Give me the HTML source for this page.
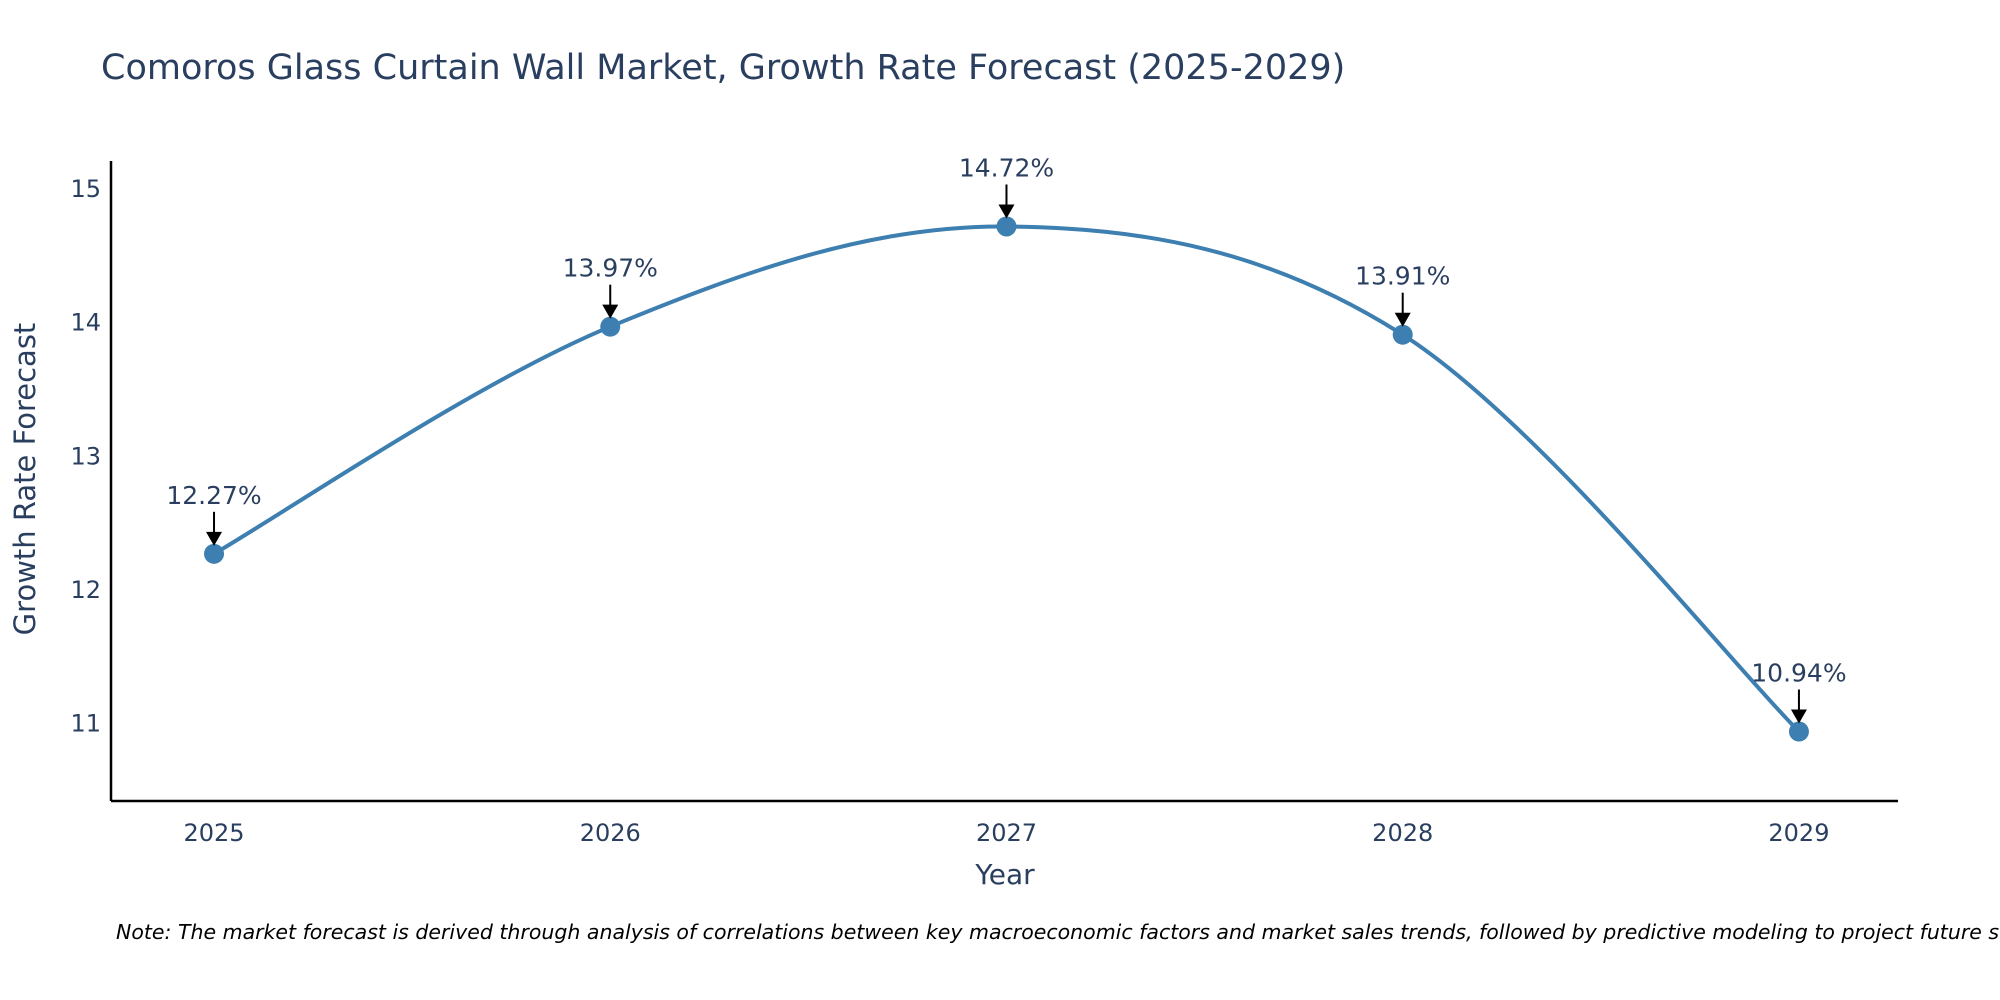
<!DOCTYPE html>
<html><head><meta charset="utf-8"><style>
html,body{margin:0;padding:0;background:#fff;}
svg{display:block;font-family:"DejaVu Sans","Liberation Sans",sans-serif;}
</style></head><body>
<svg id="chart" width="2000" height="1000" viewBox="0 0 2000 1000" xmlns="http://www.w3.org/2000/svg">
<text x="101" y="79" font-size="35" fill="#2a3f5f">Comoros Glass Curtain Wall Market, Growth Rate Forecast (2025-2029)</text>
<g id="axes"></g>
<g id="series"></g>
<text x="1005" y="884" font-size="28" fill="#2a3f5f" text-anchor="middle">Year</text>
<text transform="translate(35,479) rotate(-90)" font-size="29" fill="#2a3f5f" text-anchor="middle">Growth Rate Forecast</text>
<text x="116" y="939" font-size="20.5" font-style="italic" fill="#000">Note: The market forecast is derived through analysis of correlations between key macroeconomic factors and market sales trends, followed by predictive modeling to project future sales.</text>
</svg>
<script>
const years = [2025, 2026, 2027, 2028, 2029];
const growth = [12.27, 13.97, 14.72, 13.91, 10.94];
const yTicks = [11, 12, 13, 14, 15];

const NS = "http://www.w3.org/2000/svg";
const L = 111, R = 1898, T = 161, B = 801;
const xMin = 2024.74, xMax = 2029.25, yMin = 10.42, yMax = 15.21;
const xs = v => L + (v - xMin) / (xMax - xMin) * (R - L);
const ys = v => B - (v - yMin) / (yMax - yMin) * (B - T);
function mk(tag, attrs, parent) {
  const e = document.createElementNS(NS, tag);
  for (const k in attrs) e.setAttribute(k, attrs[k]);
  parent.appendChild(e); return e;
}
const axes = document.getElementById('axes');
const series = document.getElementById('series');
let e = mk('line', {x1: L, y1: T, x2: L, y2: B, stroke: '#000', 'stroke-width': 2.5}, axes);


e = mk('line', {x1: L, y1: B, x2: R, y2: B, stroke: '#000', 'stroke-width': 2.5}, axes);


yTicks.forEach(t => {
  const tx = mk('text', {x: L - 10, y: ys(t) + 8, 'font-size': 24, fill: '#2a3f5f', 'text-anchor': 'end'}, axes);
  tx.textContent = t;
  
  
});
years.forEach(y => {
  const tx = mk('text', {x: xs(y), y: B + 40, 'font-size': 24, fill: '#2a3f5f', 'text-anchor': 'middle'}, axes);
  tx.textContent = y;
  
  
});
const pts = years.map((y, i) => [xs(y), ys(growth[i])]);
let d = `M${pts[0][0]},${pts[0][1]}`;
const s = 0.17;
for (let i = 0; i < pts.length - 1; i++) {
  const p0 = pts[Math.max(0, i - 1)], p1 = pts[i], p2 = pts[i + 1], p3 = pts[Math.min(pts.length - 1, i + 2)];
  const c1 = [p1[0] + (p2[0] - p0[0]) * s, p1[1] + (p2[1] - p0[1]) * s];
  const c2 = [p2[0] - (p3[0] - p1[0]) * s, p2[1] - (p3[1] - p1[1]) * s];
  d += ` C${c1[0]},${c1[1]} ${c2[0]},${c2[1]} ${p2[0]},${p2[1]}`;
}
const line = mk('path', {d: d, fill: 'none', stroke: '#3d7fb0', 'stroke-width': 4}, series);


pts.forEach((p, i) => {
  const c = mk('circle', {cx: p[0], cy: p[1], r: 10, fill: '#3d7fb0'}, series);
  
  
  const a = mk('line', {x1: p[0], y1: p[1] - 42, x2: p[0], y2: p[1] - 20, stroke: '#000', 'stroke-width': 2}, series);
  
  
  const h = mk('polygon', {points: `${p[0]-8},${p[1]-22} ${p[0]+8},${p[1]-22} ${p[0]},${p[1]-8}`, fill: '#000'}, series);
  
  
  const t = mk('text', {x: p[0], y: p[1] - 50, 'font-size': 25, fill: '#2a3f5f', 'text-anchor': 'middle'}, series);
  t.textContent = growth[i].toFixed(2) + '%';
  
  
});
</script>
</body></html>
